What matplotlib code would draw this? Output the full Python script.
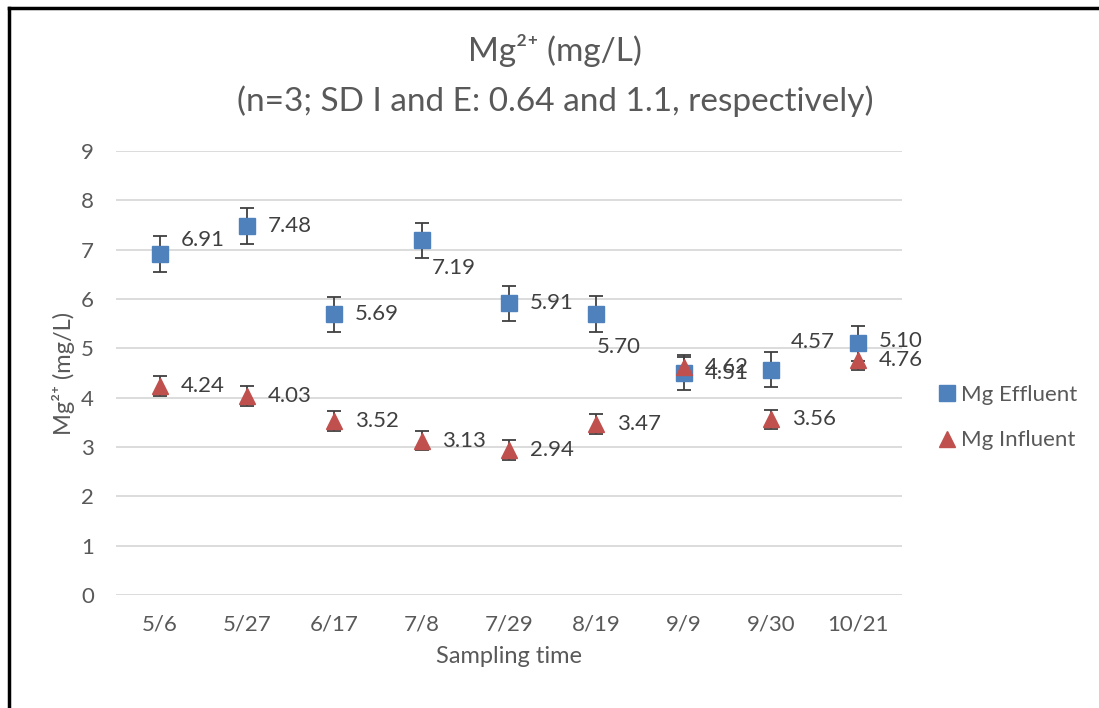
import matplotlib.pyplot as plt
from matplotlib.lines import Line2D

plt.rcParams['font.family'] = ['Lato', 'DejaVu Sans']

# data
dates = ["5/6", "5/27", "6/17", "7/8", "7/29", "8/19", "9/9", "9/30", "10/21"]
effluent = [6.91, 7.48, 5.69, 7.19, 5.91, 5.70, 4.51, 4.57, 5.10]
influent = [4.24, 4.03, 3.52, 3.13, 2.94, 3.47, 4.62, 3.56, 4.76]
eff_err = 0.36
inf_err = 0.20

gray = "#595959"
blue = "#4F81BD"
red = "#C0504D"

fig = plt.figure(figsize=(10.99, 7.08), dpi=100)
ax = fig.add_axes([0.1056, 0.1596, 0.7151, 0.6271])

x = list(range(len(dates)))
ax.errorbar(x, effluent, yerr=eff_err, fmt='s', color=blue, ms=11,
            ecolor="#404040", elinewidth=1.3, capsize=5, capthick=1.3, zorder=3)
ax.errorbar(x, influent, yerr=inf_err, fmt='^', color=red, ms=11,
            ecolor="#404040", elinewidth=1.3, capsize=5, capthick=1.3, zorder=3)

# data labels (default: right of the point; a few shifted like the original)
eff_off = {0: (15, 10), 3: (7, -20), 5: (0, -24), 7: (14, 20), 8: (15, 2)}
for i, v in enumerate(effluent):
    dx, dy = eff_off.get(i, (15, 0))
    ax.annotate(f"{v:.2f}", (i, v), xytext=(dx, dy), textcoords='offset points',
                ha='left', va='center', fontsize=16, color="#404040")
for i, v in enumerate(influent):
    ax.annotate(f"{v:.2f}", (i, v), xytext=(15, 0), textcoords='offset points',
                ha='left', va='center', fontsize=16, color="#404040")

ax.set_xlim(-0.5, len(dates) - 0.5)
ax.set_ylim(0, 9)
ax.set_yticks(range(0, 10))
ax.set_xticks(x)
ax.set_xticklabels(dates)
ax.tick_params(axis='both', length=0, labelsize=16, labelcolor=gray)
ax.tick_params(axis='x', pad=14)
ax.tick_params(axis='y', pad=16)
ax.grid(axis='y', color="#D9D9D9", linewidth=1.3)
ax.set_axisbelow(True)
for s in ax.spines.values():
    s.set_visible(False)

ax.set_xlabel("Sampling time", fontsize=17, color=gray, labelpad=8)
ax.set_ylabel("Mg²⁺ (mg/L)", fontsize=17, color=gray, labelpad=4)

fig.text(0.505, 0.928, "Mg²⁺ (mg/L)", ha='center', va='center', fontsize=24, color=gray)
fig.text(0.505, 0.857, "(n=3; SD I and E: 0.64 and 1.1, respectively)",
         ha='center', va='center', fontsize=24, color=gray)

handles = [Line2D([], [], marker='s', color=blue, ls='none', ms=11),
           Line2D([], [], marker='^', color=red, ls='none', ms=11)]
fig.legend(handles, ["Mg Effluent", "Mg Influent"], loc='center left',
           bbox_to_anchor=(0.832, 0.41), frameon=False, fontsize=16,
           labelcolor=gray, handletextpad=0.1, labelspacing=1.15, handlelength=1.1)

# outer frame (left and top edges visible)
fig.add_artist(Line2D([0.0082, 0.0082], [0, 0.9887], transform=fig.transFigure,
                      color='black', lw=2.5))
fig.add_artist(Line2D([0.0082, 1.0], [0.9887, 0.9887], transform=fig.transFigure,
                      color='black', lw=2.5))

fig.savefig("out.png", dpi=100)
